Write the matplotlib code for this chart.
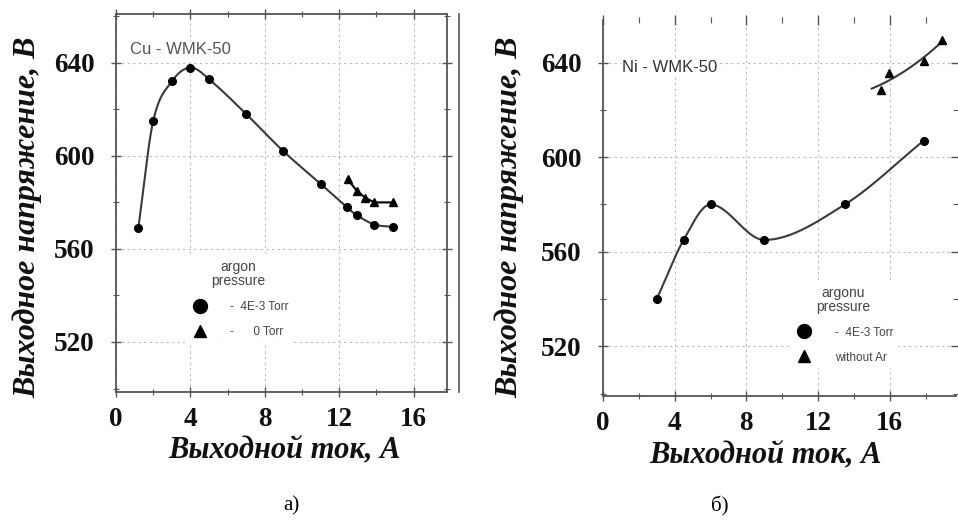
import numpy as np
import matplotlib.pyplot as plt
from matplotlib.lines import Line2D
from matplotlib.ticker import MultipleLocator

# Данные: Cu - WMK-50
cu_x_ar = [1.2, 2.0, 3.0, 4.0, 5.0, 7.0, 9.0, 11.0, 12.4, 12.95, 13.9, 14.9]
cu_y_ar = [569, 615, 632, 638, 633, 618, 602, 588, 578, 574.5, 570.5, 569.5]
cu_x_0 = [12.45, 12.95, 13.4, 13.9, 14.9]
cu_y_0 = [590, 585, 582, 580, 580]

# Данные: Ni - WMK-50
ni_x_ar = [3.0, 4.5, 6.0, 9.0, 13.5, 17.9]
ni_y_ar = [540, 565, 580, 565, 580, 607]
ni_x_0 = [15.5, 15.95, 17.9, 18.9]
ni_y_0 = [628.5, 635.5, 640.5, 649.5]

yticks = [520, 560, 600, 640]
xticks = [0, 4, 8, 12, 16]

serif = 'Liberation Serif'
sans = 'Liberation Sans'
line_col = '#3a3a3a'
axis_col = '#555555'


def smooth(x, y, n=300):
    # кубический сплайн Эрмита (касательные Катмулла-Рома)
    x = np.asarray(x, float)
    y = np.asarray(y, float)
    m = np.zeros_like(y)
    m[1:-1] = (y[2:] - y[:-2]) / (x[2:] - x[:-2])
    m[0] = (y[1] - y[0]) / (x[1] - x[0])
    m[-1] = (y[-1] - y[-2]) / (x[-1] - x[-2])
    xs, ys = [], []
    for i in range(len(x) - 1):
        h = x[i + 1] - x[i]
        t = np.linspace(0, 1, n // (len(x) - 1))
        h00 = 2 * t**3 - 3 * t**2 + 1
        h10 = t**3 - 2 * t**2 + t
        h01 = -2 * t**3 + 3 * t**2
        h11 = t**3 - t**2
        xs.append(x[i] + t * h)
        ys.append(h00 * y[i] + h10 * h * m[i] + h01 * y[i + 1] + h11 * h * m[i + 1])
    return np.concatenate(xs), np.concatenate(ys)


def style_axes(ax, xmax, ylim):
    ax.set_xlim(0, xmax)
    ax.set_ylim(*ylim)
    ax.set_xticks(xticks)
    ax.set_yticks(yticks)
    ax.xaxis.set_minor_locator(MultipleLocator(2))
    ax.yaxis.set_minor_locator(MultipleLocator(20))
    ax.grid(True, which='major', color='#bbbbbb', linestyle=(0, (2, 3)), linewidth=0.8)
    ax.tick_params(which='both', direction='inout', top=True, right=True,
                   color=axis_col, labelcolor='#111111')
    ax.tick_params(which='major', length=7, width=1.0)
    ax.tick_params(which='minor', length=4, width=0.8)
    ax.tick_params(axis='both', labelsize=19.5)
    ax.tick_params(axis='y', pad=12)
    ax.tick_params(axis='x', pad=7)
    for lbl in ax.get_xticklabels() + ax.get_yticklabels():
        lbl.set_fontfamily(serif)
        lbl.set_fontweight('bold')
    for sp in ax.spines.values():
        sp.set_color(axis_col)
        sp.set_linewidth(1.3)


def add_legend(ax, title, labels, loc):
    handles = [Line2D([], [], marker='o', color='black', linestyle='none', markersize=10),
               Line2D([], [], marker='^', color='black', linestyle='none', markersize=8)]
    leg = ax.legend(handles, labels, title=title, loc='center', bbox_to_anchor=loc,
                    frameon=True, fontsize=8.5, title_fontsize=10, handletextpad=1.6,
                    labelspacing=1.1, borderpad=0.3, alignment='center')
    leg.get_frame().set_edgecolor('white')
    leg.get_frame().set_facecolor('white')
    leg.get_frame().set_alpha(1)
    for t in leg.get_texts():
        t.set_color('#444444')
        t.set_fontfamily(sans)
    leg.get_title().set_color('#444444')
    leg.get_title().set_fontfamily(sans)
    leg.get_title().set_multialignment('center')
    leg.get_title().set_linespacing(1.0)
    leg.set_zorder(5)


fig = plt.figure(figsize=(9.58, 5.25), dpi=100)

# а) Cu
ax1 = fig.add_axes([116 / 958, 1 - 392 / 525, (447 - 116) / 958, (392 - 14) / 525])
style_axes(ax1, 17.8, (498.5, 661))
sx, sy = smooth(cu_x_ar, cu_y_ar)
ax1.plot(sx, sy, color=line_col, linewidth=1.5, zorder=3)
ax1.plot(cu_x_ar, cu_y_ar, 'o', color='black', markersize=5.5, zorder=4)
ax1.plot(cu_x_0, cu_y_0, '^-', color='black', markersize=5.5, linewidth=1.5, zorder=4)
ax1.text(0.042, 0.905, 'Cu - WMK-50', transform=ax1.transAxes, fontsize=12,
         color='#555555', family=sans, va='center',
         bbox=dict(facecolor='white', edgecolor='none', pad=1))
add_legend(ax1, 'argon\npressure', ['-  4E-3 Torr', '-      0 Torr'], (0.37, 0.245))
fig.add_artist(Line2D([459 / 958, 459 / 958], [1 - 392 / 525, 1 - 14 / 525],
                      color=axis_col, linewidth=1.2))

# б) Ni
ax2 = fig.add_axes([603 / 958, 1 - 396 / 525, (956 - 603) / 958, (396 - 20) / 525])
style_axes(ax2, 19.7, (499, 658))
ax2.spines['top'].set_visible(False)
ax2.spines['right'].set_visible(False)
sx, sy = smooth(ni_x_ar, ni_y_ar)
ax2.plot(sx, sy, color=line_col, linewidth=1.5, zorder=3)
ax2.plot(ni_x_ar, ni_y_ar, 'o', color='black', markersize=5.5, zorder=4)
c = np.polyfit(ni_x_0, ni_y_0, 2)
fx = np.linspace(15.0, ni_x_0[-1], 100)
ax2.plot(fx, np.polyval(c, fx), color=line_col, linewidth=1.5, zorder=3)
ax2.plot(ni_x_0, ni_y_0, '^', color='black', markersize=5.5, zorder=4)
ax2.text(0.055, 0.875, 'Ni - WMK-50', transform=ax2.transAxes, fontsize=12,
         color='#333333', family=sans, va='center',
         bbox=dict(facecolor='white', edgecolor='none', pad=1))
add_legend(ax2, 'argonu\npressure', ['-  4E-3 Torr', 'without Ar'], (0.68, 0.19))

# подписи осей
for xc in (28, 510):
    fig.text(xc / 958, 1 - 217 / 525, 'Выходное напряжение, В', rotation=90,
             ha='center', va='center', fontsize=23, family=serif,
             fontweight='bold', style='italic', color='#111111')
for xc, yc in ((285, 450), (766, 455)):
    fig.text(xc / 958, 1 - yc / 525, 'Выходной ток, А', ha='center', va='center',
             fontsize=22, family=serif, fontweight='bold', style='italic', color='#111111')

fig.text(291 / 958, 1 - 506 / 525, 'а)', ha='center', va='center', fontsize=15, family=serif)
fig.text(720 / 958, 1 - 506 / 525, 'б)', ha='center', va='center', fontsize=15, family=serif)

fig.savefig('out.png', dpi=100)
